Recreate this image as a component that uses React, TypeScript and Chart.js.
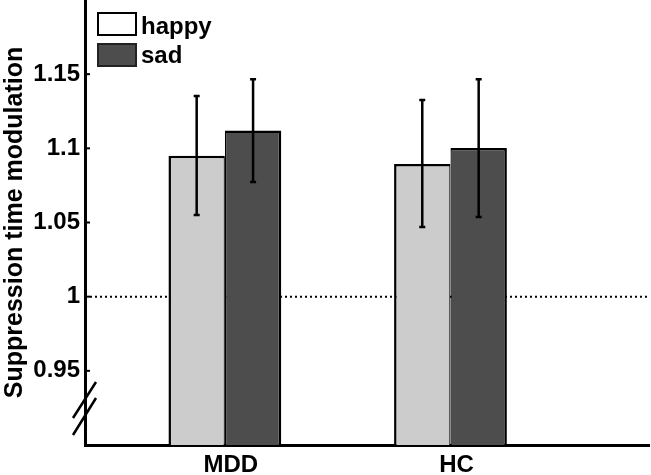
import { useEffect, useRef } from "react";
import { Chart, registerables } from "chart.js";

Chart.register(...registerables);

const categories = ["MDD", "HC"];
const categoryPositions = [1, 2];
const seriesLabels = ["happy", "sad"];
const happyValues = [1.095, 1.0895];
const sadValues = [1.112, 1.1003];
const happyErrLow = [1.0551, 1.047];
const happyErrHigh = [1.1353, 1.1326];
const sadErrLow = [1.0773, 1.0537];
const sadErrHigh = [1.1465, 1.1465];
const yTickValues = [0.95, 1, 1.05, 1.1, 1.15];
const referenceValue = 1;

const barFills = ["#cccccc", "#4d4d4d"];
const legendFills = ["#ffffff", "#4d4d4d"];
const FONT = "'Liberation Sans', Arial, sans-serif";

export default function App() {
  const ref = useRef<HTMLCanvasElement | null>(null);

  useEffect(() => {
    document.body.style.margin = "0";
    const canvas = ref.current;
    if (!canvas) return;

    const errLow = [happyErrLow, sadErrLow];
    const errHigh = [happyErrHigh, sadErrHigh];

    const refLinePlugin = {
      id: "refLine",
      beforeDatasetsDraw(chart: any) {
        const { ctx, chartArea, scales } = chart;
        const y = scales.y.getPixelForValue(referenceValue);
        ctx.save();
        ctx.strokeStyle = "#000";
        ctx.lineWidth = 2;
        ctx.setLineDash([2, 3]);
        ctx.beginPath();
        ctx.moveTo(chartArea.left, y);
        ctx.lineTo(chartArea.right, y);
        ctx.stroke();
        ctx.restore();
      },
    };

    const errorBarPlugin = {
      id: "errorBars",
      afterDatasetsDraw(chart: any) {
        const { ctx, scales } = chart;
        ctx.save();
        ctx.strokeStyle = "#000";
        ctx.lineWidth = 2.5;
        for (let d = 0; d < 2; d++) {
          const meta = chart.getDatasetMeta(d);
          meta.data.forEach((el: any, i: number) => {
            const x = el.x;
            const yl = scales.y.getPixelForValue(errLow[d][i]);
            const yh = scales.y.getPixelForValue(errHigh[d][i]);
            ctx.beginPath();
            ctx.moveTo(x, yl);
            ctx.lineTo(x, yh);
            ctx.moveTo(x - 3, yl);
            ctx.lineTo(x + 3, yl);
            ctx.moveTo(x - 3, yh);
            ctx.lineTo(x + 3, yh);
            ctx.stroke();
          });
        }
        ctx.restore();
      },
    };

    const decorPlugin = {
      id: "decor",
      afterDraw(chart: any) {
        const { ctx, chartArea, scales } = chart;
        const left = chartArea.left;
        const bottom = chartArea.bottom;
        ctx.save();
        ctx.strokeStyle = "#000";
        ctx.lineWidth = 2;
        yTickValues.forEach((v) => {
          const y = scales.y.getPixelForValue(v);
          ctx.beginPath();
          ctx.moveTo(left, y);
          ctx.lineTo(left + 5, y);
          ctx.stroke();
        });
        ctx.lineWidth = 2.5;
        ctx.beginPath();
        ctx.moveTo(left - 12, bottom - 27);
        ctx.lineTo(left + 11, bottom - 63);
        ctx.moveTo(left - 12, bottom - 10);
        ctx.lineTo(left + 11, bottom - 47);
        ctx.stroke();
        const boxX = left + 13;
        const boxW = 38;
        const boxH = 22;
        const rows = [13, 44];
        const baselines = [34, 63];
        ctx.font = `bold 24px ${FONT}`;
        ctx.textBaseline = "alphabetic";
        ctx.textAlign = "left";
        seriesLabels.forEach((label, i) => {
          ctx.fillStyle = legendFills[i];
          ctx.fillRect(boxX, rows[i], boxW, boxH);
          ctx.strokeStyle = i === 0 ? "#000" : "#222";
          ctx.lineWidth = 2;
          ctx.strokeRect(boxX, rows[i], boxW, boxH);
          ctx.fillStyle = "#000";
          ctx.fillText(label, boxX + boxW + 5, baselines[i]);
        });
        ctx.restore();
      },
    };

    const chart = new Chart(canvas, {
      type: "bar",
      data: {
        datasets: [
          {
            label: seriesLabels[0],
            data: categoryPositions.map((x, i) => ({ x, y: happyValues[i] })),
            backgroundColor: barFills[0],
            borderColor: "#000",
            borderWidth: { left: 2.5, top: 2.5, right: 1.25, bottom: 0 },
            borderSkipped: "start",
            categoryPercentage: 0.5,
            barPercentage: 1,
          },
          {
            label: seriesLabels[1],
            data: categoryPositions.map((x, i) => ({ x, y: sadValues[i] })),
            backgroundColor: barFills[1],
            borderColor: "#000",
            borderWidth: { left: 1.25, top: 2.5, right: 2.5, bottom: 0 },
            borderSkipped: "start",
            categoryPercentage: 0.5,
            barPercentage: 1,
          },
        ] as any,
      },
      options: {
        responsive: false,
        animation: false,
        layout: { padding: { left: 0, right: 2, top: 0, bottom: 0 } },
        plugins: {
          legend: { display: false },
          tooltip: { enabled: false },
        },
        scales: {
          x: {
            type: "linear",
            min: 0.38,
            max: 2.88,
            offset: false,
            z: 1,
            grid: { display: false, drawTicks: false },
            border: { display: true, width: 3, color: "#000" },
            afterBuildTicks: (scale: any) => {
              scale.ticks = categoryPositions.map((v) => ({ value: v }));
            },
            afterFit: (scale: any) => {
              scale.height = 30;
              scale.paddingLeft = 0;
              scale.paddingRight = 0;
            },
            ticks: {
              padding: 6,
              labelOffset: 6,
              color: "#000",
              font: { family: FONT, size: 24, weight: "bold" },
              callback: (v: any) => {
                const idx = categoryPositions.indexOf(Number(v));
                return idx >= 0 ? categories[idx] : "";
              },
            },
          },
          y: {
            type: "linear",
            min: 0.9,
            max: 1.2,
            beginAtZero: false,
            z: 1,
            grid: { display: false, drawTicks: false },
            border: { display: true, width: 3, color: "#000" },
            afterBuildTicks: (scale: any) => {
              scale.ticks = yTickValues.map((v) => ({ value: v }));
            },
            afterFit: (scale: any) => {
              scale.width = 85;
              scale.paddingTop = 0;
              scale.paddingBottom = 0;
            },
            ticks: {
              padding: 5,
              color: "#000",
              font: { family: FONT, size: 24, weight: "bold" },
              callback: (v: any) => String(Number(Number(v).toFixed(2))),
            },
            title: {
              display: true,
              text: "Suppression time modulation",
              color: "#000",
              padding: 0,
              font: { family: FONT, size: 25, weight: "bold" },
            },
          },
        },
      } as any,
      plugins: [refLinePlugin, errorBarPlugin, decorPlugin],
    });

    return () => chart.destroy();
  }, []);

  return <canvas ref={ref} width={651} height={475} style={{ display: "block" }} />;
}
